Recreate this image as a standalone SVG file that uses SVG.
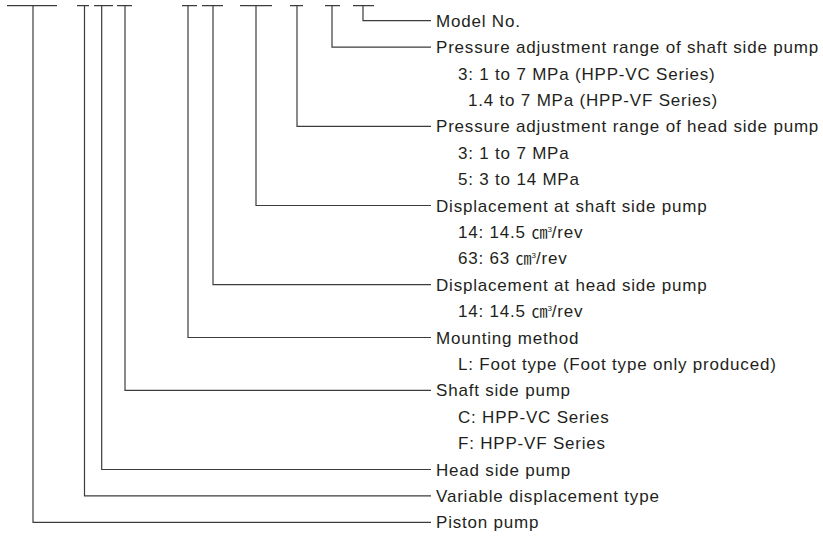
<svg xmlns="http://www.w3.org/2000/svg" width="823" height="538" viewBox="0 0 823 538">
<style>
.bg{fill:#ffffff}
.ln{fill:none;stroke:#3c3c3c;stroke-width:1.2}
.t{font-family:"Liberation Sans","Noto Sans CJK JP",sans-serif;font-size:17px;letter-spacing:0.8px;fill:#231f20}
.cm{font-family:"Noto Sans CJK JP",sans-serif;font-size:16px;letter-spacing:0}
.sup{font-size:8px;letter-spacing:0}
</style>
<rect class="bg" x="0" y="0" width="823" height="538"/>
<g id="connectors" class="ln">
<path d="M7 5.7H57 M77 5.7H89 M94 5.7H113 M117 5.7H132 M182 5.7H197 M202 5.7H223 M240 5.7H272 M290 5.7H303 M325 5.7H340 M353 5.7H374"/>
<path d="M363 5.7V20.7H431"/>
<path d="M332 5.7V47.1H431"/>
<path d="M297 5.7V126.3H431"/>
<path d="M256 5.7V205.5H431"/>
<path d="M213 5.7V284.7H431"/>
<path d="M188 5.7V337.5H431"/>
<path d="M125 5.7V390.3H431"/>
<path d="M101.7 5.7V469.5H431"/>
<path d="M84.5 5.7V495.9H431"/>
<path d="M33 5.7V522.3H431"/>
</g>
<g id="model-no"><text class="t" x="436" y="26.7">Model No.</text></g>
<g id="pressure-shaft">
<text class="t" x="436" y="53.1">Pressure adjustment range of shaft side pump</text>
<text class="t" x="458" y="79.5">3: 1 to 7 MPa (HPP-VC Series)</text>
<text class="t" x="468" y="105.9">1.4 to 7 MPa (HPP-VF Series)</text>
</g>
<g id="pressure-head">
<text class="t" x="436" y="132.3">Pressure adjustment range of head side pump</text>
<text class="t" x="458" y="158.7">3: 1 to 7 MPa</text>
<text class="t" x="458" y="185.1">5: 3 to 14 MPa</text>
</g>
<g id="displacement-shaft">
<text class="t" x="436" y="211.5">Displacement at shaft side pump</text>
<text class="t" x="458" y="237.9">14: 14.5 <tspan class="cm">㎝</tspan><tspan class="sup" dy="-6">3</tspan><tspan dy="6">/rev</tspan></text>
<text class="t" x="458" y="264.3">63: 63 <tspan class="cm">㎝</tspan><tspan class="sup" dy="-6">3</tspan><tspan dy="6">/rev</tspan></text>
</g>
<g id="displacement-head">
<text class="t" x="436" y="290.7">Displacement at head side pump</text>
<text class="t" x="458" y="317.1">14: 14.5 <tspan class="cm">㎝</tspan><tspan class="sup" dy="-6">3</tspan><tspan dy="6">/rev</tspan></text>
</g>
<g id="mounting">
<text class="t" x="436" y="343.5">Mounting method</text>
<text class="t" x="458" y="369.9">L: Foot type (Foot type only produced)</text>
</g>
<g id="shaft-side-pump">
<text class="t" x="436" y="396.3">Shaft side pump</text>
<text class="t" x="458" y="422.7">C: HPP-VC Series</text>
<text class="t" x="458" y="449.1">F: HPP-VF Series</text>
</g>
<g id="head-side-pump"><text class="t" x="436" y="475.5">Head side pump</text></g>
<g id="variable-displacement"><text class="t" x="436" y="501.9">Variable displacement type</text></g>
<g id="piston-pump"><text class="t" x="436" y="528.3">Piston pump</text></g>
</svg>
